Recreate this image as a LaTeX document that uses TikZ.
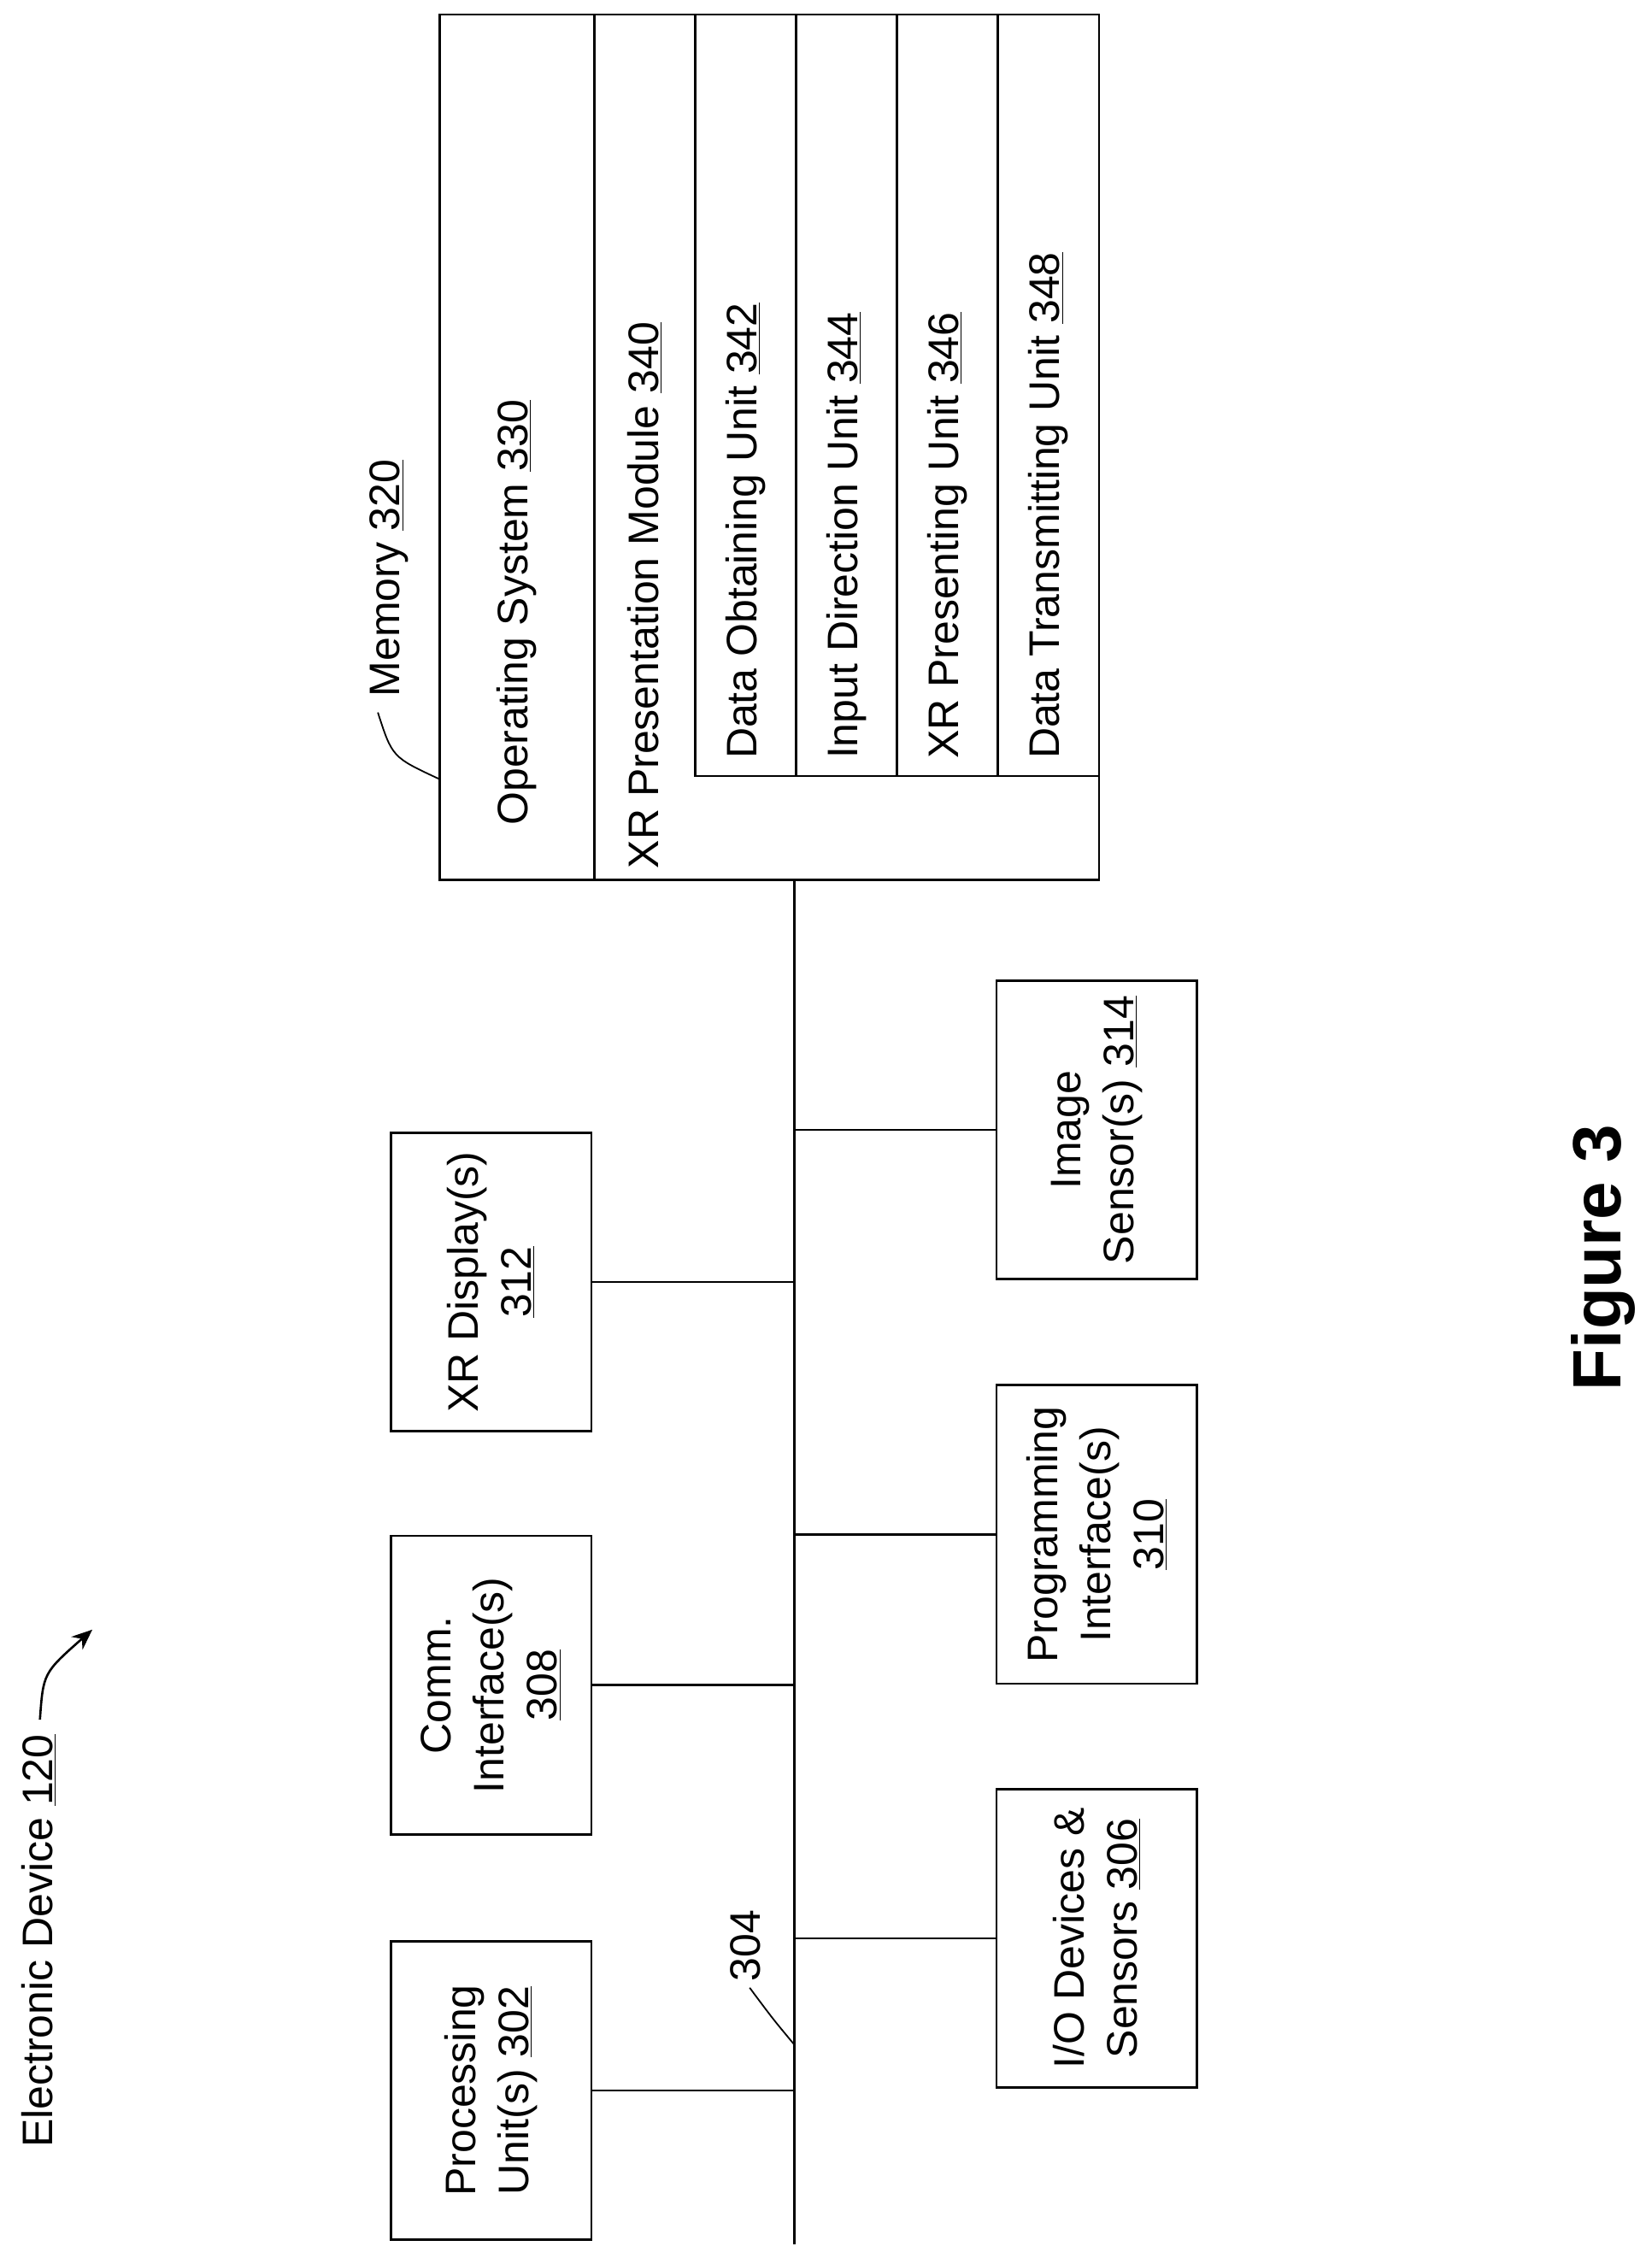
\documentclass[tikz,border=0pt]{standalone}
\usepackage{fontspec}
\setmainfont{Liberation Sans}
\usetikzlibrary{arrows.meta}
\def\u{0.8437pt}
\newcommand{\ul}[1]{\underline{#1}}
\begin{document}
\begin{tikzpicture}[x=0.8437pt,y=-0.8437pt,line width=1.3pt,
  every node/.style={font=\fontsize{25}{31}\selectfont},
  box/.style={draw,rotate=90,align=center,minimum width=207*\u,minimum height=139*\u,inner sep=0pt},
  lbl/.style={rotate=90,anchor=west,inner sep=0pt},
  cell/.style={draw,rectangle,inner sep=0pt}]
\useasboundingbox (0,0) rectangle (1145,1565.7);
% memory
\node[cell,minimum width=457*\u,minimum height=600*\u] (mem) at (533.5,310) {};
\node[cell,minimum width=350*\u,minimum height=600*\u] (xr) at (587,310) {};
\node[cell,minimum width=70*\u,minimum height=528*\u] (u1) at (517,274) {};
\node[cell,minimum width=70*\u,minimum height=528*\u] (u2) at (587,274) {};
\node[cell,minimum width=70*\u,minimum height=528*\u] (u3) at (657,274) {};
\node[cell,minimum width=70*\u,minimum height=528*\u] (u4) at (727,274) {};
\node[lbl] (os) at (358,573) {Operating System \ul{330}};
\node[lbl] (xrp) at (447,603) {XR Presentation Module \ul{340}};
\node[lbl] (t1) at (517,527) {Data Obtaining Unit \ul{342}};
\node[lbl] (t2) at (587,527) {Input Direction Unit \ul{344}};
\node[lbl] (t3) at (657,527) {XR Presenting Unit \ul{346}};
\node[lbl] (t4) at (727,527) {Data Transmitting Unit \ul{348}};
\node[lbl] (meml) at (270,484) {Memory \ul{320}};
\coordinate (ml) at (262,494);
\draw[line width=0.9pt] (ml) .. controls (272,525) .. (mem.west |- 0,540);
% bus
\coordinate (bt) at (551,610);
\coordinate (bb) at (551,1556);
\draw (bt) -- (bb);
% boxes
\node[box] (pu) at (340.5,1449.5) {Processing\\Unit(s) \ul{302}};
\node[box] (ci) at (340.5,1168.5) {Comm.\\Interface(s)\\\ul{308}};
\node[box] (xd) at (340.5,889) {XR Display(s)\\\ul{312}};
\node[box] (io) at (760.5,1344) {I/O Devices \&\\Sensors \ul{306}};
\node[box] (pi) at (760.5,1064) {Programming\\Interface(s)\\\ul{310}};
\node[box] (is) at (760.5,783.5) {Image\\Sensor(s) \ul{314}};
\foreach \n in {pu,ci,xd} \draw (\n.south) -- (\n.south -| bt);
\foreach \n in {io,pi,is} \draw (\n.north) -- (\n.north -| bt);
% 304
\node[rotate=90,inner sep=0pt] (b304) at (517,1349) {304};
\coordinate (b304c) at (551,1418);
\draw[line width=0.9pt,shorten >=4pt] (b304c) .. controls (536,1400) .. (b304.west);
% electronic device
\node[lbl] (ed) at (27,1490) {Electronic Device \ul{120}};
\draw[-{Stealth[length=12pt,width=10pt]},shorten <=8pt] (ed.east) .. controls (30,1160) .. (64,1130);
\node[rotate=90,font=\fontsize{40}{48}\selectfont\bfseries] (fig) at (1112,872) {Figure 3};
\end{tikzpicture}
\end{document}
